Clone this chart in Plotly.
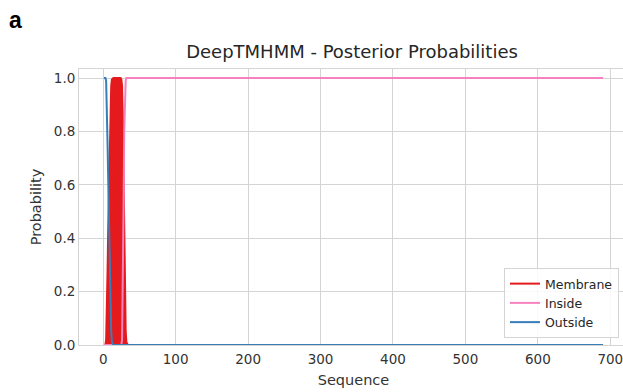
import plotly.graph_objects as go

# residue positions (sequence index) where probabilities were read
positions = [1, 2, 3, 4, 5, 6, 7, 8, 9, 10, 11, 12, 13, 14, 15, 16, 17, 18, 19, 20,
             21, 22, 23, 24, 25, 26, 27, 28, 29, 30, 31, 32, 33, 34, 690]

membrane = [0, 0, 0, 0.02, 0.12, 0.28, 0.45, 0.62, 0.78, 0.9, 0.97, 0.995, 1, 1, 1, 1, 1, 1, 1, 1,
            1, 1, 1, 1, 0.995, 0.97, 0.85, 0.6, 0.35, 0.15, 0.05, 0.01, 0, 0, 0]
inside = [0, 0, 0, 0, 0, 0, 0, 0, 0, 0, 0, 0, 0, 0, 0, 0, 0, 0, 0, 0,
          0, 0, 0, 0, 0, 0.02, 0.2, 0.5, 0.8, 0.95, 0.99, 1, 1, 1, 1]
outside = [1, 1, 1, 0.99, 0.9, 0.75, 0.6, 0.45, 0.3, 0.15, 0.05, 0.01, 0, 0, 0, 0, 0, 0, 0, 0,
           0, 0, 0, 0, 0, 0, 0, 0, 0, 0, 0, 0, 0, 0, 0]

series_names = ["Membrane", "Inside", "Outside"]
series_colors = ["#e41a1c", "#f781bf", "#377eb8"]
x_ticks = [0, 100, 200, 300, 400, 500, 600, 700]
y_ticks = [0.0, 0.2, 0.4, 0.6, 0.8, 1.0]

# the original figure is slightly wider than the visible window (right spine cut off)
W, H = 628, 392
L, R, T, B = 79, 0, 69, 47
PW, PH = W - L - R, H - T - B

fig = go.Figure()
# membrane: drawn as a solid band
fig.add_trace(go.Scatter(x=positions, y=membrane, mode="lines", fill="tozeroy",
                         fillcolor=series_colors[0],
                         line=dict(color=series_colors[0], width=2), showlegend=False))
fig.add_trace(go.Scatter(x=[None], y=[None], mode="lines", name=series_names[0],
                         line=dict(color=series_colors[0], width=2)))
fig.add_trace(go.Scatter(x=positions, y=inside, mode="lines", name=series_names[1],
                         line=dict(color=series_colors[1], width=2)))
fig.add_trace(go.Scatter(x=positions, y=outside, mode="lines", name=series_names[2],
                         line=dict(color=series_colors[2], width=2)))

font_family = "DejaVu Sans"
fig.update_layout(
    width=W, height=H,
    margin=dict(l=L, r=R, t=T, b=B, pad=0, autoexpand=False),
    paper_bgcolor="white", plot_bgcolor="white",
    font=dict(family=font_family, size=13.5, color="#333333"),
    title=dict(text="DeepTMHMM - Posterior Probabilities", x=352 / W,
               xanchor="center", y=1 - 52 / H, yanchor="middle",
               font=dict(size=18, color="#262626", family=font_family)),
    xaxis=dict(range=[-33.45, 724.45], tickvals=x_ticks, ticktext=[str(v) for v in x_ticks],
               showgrid=True, gridcolor="#d4d4d4", gridwidth=1, zeroline=False,
               showline=True, linecolor="#d4d4d4", linewidth=1, mirror=True, automargin=False,
               ticks="outside", ticklen=2, tickcolor="rgba(0,0,0,0)",
               title=dict(text="Sequence", font=dict(size=14.5, color="#333333"), standoff=8)),
    yaxis=dict(range=[0, 1.034], tickvals=y_ticks, ticktext=["%.1f" % v for v in y_ticks],
               showgrid=True, gridcolor="#d4d4d4", gridwidth=1, zeroline=False,
               showline=True, linecolor="#d4d4d4", linewidth=1, mirror=True, automargin=False,
               ticks="", title=dict(text="Probability", font=dict(size=14.5, color="#333333"), standoff=8)),
    legend=dict(x=(619 - L) / PW, xanchor="right", y=(345 - 338) / PH, yanchor="bottom",
                bgcolor="rgba(255,255,255,0.85)", bordercolor="#d4d4d4", borderwidth=1,
                font=dict(size=12.5, color="#262626", family=font_family)),
    annotations=[dict(text="<b>a</b>", xref="paper", yref="paper",
                      x=(7 - L) / PW, y=(H - B - 20) / PH,
                      xanchor="left", yanchor="middle", showarrow=False,
                      font=dict(family="Liberation Sans", size=23, color="black"))],
)

fig.write_html("out.html", config={"displayModeBar": False},
               post_script="document.body.style.margin='0';document.body.style.overflow='hidden';")
